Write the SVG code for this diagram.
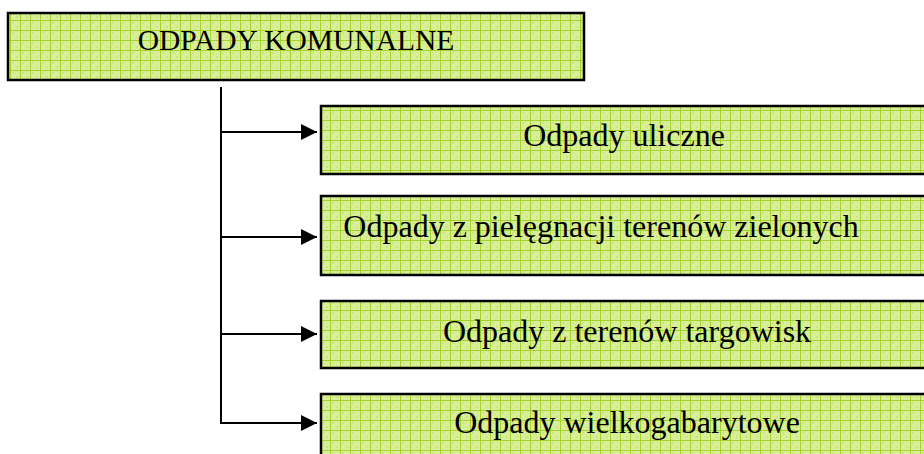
<svg xmlns="http://www.w3.org/2000/svg" width="924" height="454" viewBox="0 0 924 454">
<defs>
<pattern id="grid" width="10" height="10" patternUnits="userSpaceOnUse">
<rect width="10" height="10" fill="#d8ee98"/>
<rect x="2" y="2" width="2" height="2" fill="#cfe585"/>
<rect x="6" y="6" width="2" height="2" fill="#cfe585"/>
<path d="M0 0.5H10M0.5 0V10" stroke="#a4d22a" stroke-width="1" fill="none"/>
</pattern>
<marker id="arr" markerWidth="16" markerHeight="16" refX="16" refY="8" orient="auto" markerUnits="userSpaceOnUse">
<path d="M0 0L16 8L0 16Z" fill="#000"/>
</marker>
<style>
.box{fill:url(#grid);stroke:#000;stroke-width:2.5}
.t{font-family:"Liberation Serif","Times New Roman",serif;fill:#000;text-anchor:middle}
.c{stroke:#000;stroke-width:2;fill:none}
</style>
</defs>
<g id="top">
<rect class="box" x="8" y="13" width="576" height="67"/>
<text class="t" x="296" y="50" font-size="29.5">ODPADY KOMUNALNE</text>
</g>
<g id="n1">
<rect class="box" x="321" y="106" width="620" height="68"/>
<text class="t" x="624" y="146" font-size="32">Odpady uliczne</text>
</g>
<g id="n2">
<rect class="box" x="321" y="196" width="620" height="79"/>
<text class="t" x="601" y="237" font-size="32">Odpady z pielęgnacji terenów zielonych</text>
</g>
<g id="n3">
<rect class="box" x="321" y="301" width="620" height="67"/>
<text class="t" x="627" y="342" font-size="32">Odpady z terenów targowisk</text>
</g>
<g id="n4">
<rect class="box" x="321" y="394" width="620" height="80"/>
<text class="t" x="627" y="433" font-size="32">Odpady wielkogabarytowe</text>
</g>
<g id="connectors">
<path class="c" d="M221 87V423"/>
<path class="c" d="M221 132H317" marker-end="url(#arr)"/>
<path class="c" d="M221 237H317" marker-end="url(#arr)"/>
<path class="c" d="M221 334H317" marker-end="url(#arr)"/>
<path class="c" d="M220 423H317" marker-end="url(#arr)"/>
</g>
</svg>
